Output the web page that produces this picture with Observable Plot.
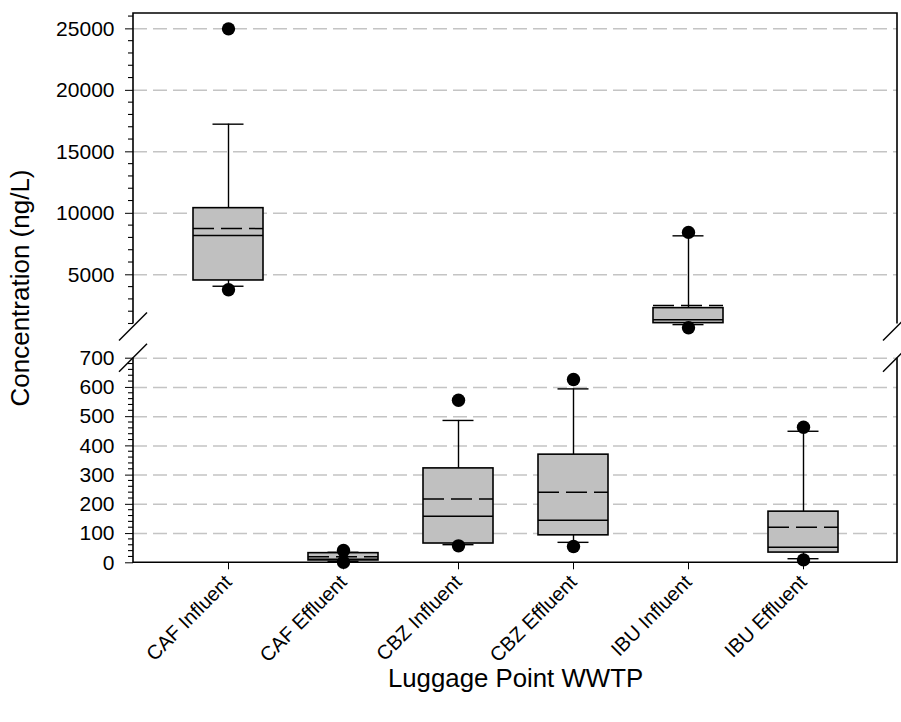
<!DOCTYPE html>
<html>
<head>
<meta charset="utf-8">
<script src="https://cdn.jsdelivr.net/npm/d3@7"></script>
<script src="https://cdn.jsdelivr.net/npm/@observablehq/plot@0.6"></script>
<style>
  html, body { margin: 0; padding: 0; background: white; }
  #chart { position: relative; width: 901px; height: 722px; overflow: hidden; }
  #chart svg { position: absolute; left: 0; top: 0; }
  g[aria-label="x-axis tick label"] text { font-size: 20px; }
</style>
</head>
<body>
<div id="chart"></div>
<script>
// ---- data ----
const categories = ["CAF Influent", "CAF Effluent", "CBZ Influent", "CBZ Effluent", "IBU Influent", "IBU Effluent"];
const panel      = ["top", "bottom", "bottom", "bottom", "top", "bottom"];
const outlierLow  = [3780, 2, 58, 56, 700, 10];
const whiskerLow  = [4070, 5, 62, 70, 950, 14];
const q1          = [4540, 8, 66, 94, 1070, 35];
const median      = [8200, 12, 159, 146, 1340, 53];
const mean        = [8760, 21, 218, 241, 2500, 122];
const q3          = [10420, 33, 323, 370, 2290, 175];
const whiskerHigh = [17250, 36, 487, 595, 8170, 450];
const outlierHigh = [25000, 42, 556, 627, 8450, 464];

const topMajor = [5000, 10000, 15000, 20000, 25000];
const topMinor = [1000, 2000, 3000, 4000, 6000, 7000, 8000, 9000, 11000, 12000, 13000, 14000, 16000, 17000, 18000, 19000, 21000, 22000, 23000, 24000, 26000];
const botMajor = [0, 100, 200, 300, 400, 500, 600, 700];
const botMinor = [20, 40, 60, 80, 120, 140, 160, 180, 220, 240, 260, 280, 320, 340, 360, 380, 420, 440, 460, 480, 520, 540, 560, 580, 620, 640, 660, 680];
const yTitle = "Concentration (ng/L)";
const xTitle = "Luggage Point WWTP";

const rows = categories.map((c, i) => ({
  cat: c, panel: panel[i], lo: outlierLow[i], wlo: whiskerLow[i], q1: q1[i], med: median[i],
  mean: mean[i], q3: q3[i], whi: whiskerHigh[i], hi: outlierHigh[i]
}));

const FONT = "'Liberation Sans', Arial, Helvetica, sans-serif";
const W = 901;
const xScale = {type: "band", domain: categories, paddingInner: 0.3945, paddingOuter: 0.502, align: 0.5};

function minorTicks(values, len) {
  return (index, scales, values2, dims) => {
    const g = d3.create("svg:g").attr("stroke", "black").attr("stroke-width", 1.1);
    for (const v of values) {
      const yy = scales.y(v);
      g.append("line").attr("x1", dims.marginLeft - len).attr("x2", dims.marginLeft).attr("y1", yy).attr("y2", yy);
    }
    return g.node();
  };
}

function frameLines(which) {
  return (index, scales, values, dims) => {
    const L = dims.marginLeft, R = dims.width - dims.marginRight;
    const T = dims.marginTop, B = dims.height - dims.marginBottom;
    const g = d3.create("svg:g").attr("stroke", "black").attr("stroke-width", 1.6).attr("fill", "none");
    let slashY;
    if (which === "top") {
      g.append("path").attr("d", `M${L},${B}V${T}H${R}V${B}`);
      slashY = B + 3;
    } else {
      g.append("path").attr("d", `M${L},${T}V${B}H${R}V${T}`);
      slashY = T;
    }
    for (const x of [L, R]) {
      g.append("line").attr("x1", x - 14).attr("y1", slashY + 14).attr("x2", x + 14).attr("y2", slashY - 14)
        .attr("stroke-width", 1.4);
    }
    return g.node();
  };
}

function boxMarks(data) {
  return [
    Plot.ruleX(data, {x: "cat", y1: "q3", y2: "whi", stroke: "black", strokeWidth: 1.4}),
    Plot.ruleX(data, {x: "cat", y1: "q1", y2: "wlo", stroke: "black", strokeWidth: 1.4}),
    Plot.tickY(data, {x: "cat", y: "whi", stroke: "black", strokeWidth: 1.4, insetLeft: 19.5, insetRight: 19.5}),
    Plot.tickY(data, {x: "cat", y: "wlo", stroke: "black", strokeWidth: 1.4, insetLeft: 19.5, insetRight: 19.5}),
    Plot.barY(data, {x: "cat", y1: "q1", y2: "q3", fill: "#c0c0c0", stroke: "black", strokeWidth: 1.6}),
    Plot.tickY(data, {x: "cat", y: "med", stroke: "black", strokeWidth: 1.5}),
    Plot.tickY(data, {x: "cat", y: "mean", stroke: "black", strokeWidth: 1.5, strokeDasharray: "21,7"}),
    Plot.dot(data, {x: "cat", y: "hi", r: 6.7, fill: "black", stroke: "none"}),
    Plot.dot(data, {x: "cat", y: "lo", r: 6.7, fill: "black", stroke: "none"})
  ];
}

const common = {
  width: W,
  marginLeft: 133,
  marginRight: 4,
  style: {background: "transparent", overflow: "visible", fontFamily: FONT, fontSize: "21px", color: "black"}
};

const topData = rows.filter(d => d.panel === "top");
const botData = rows.filter(d => d.panel === "bottom");

const topPlot = Plot.plot({
  ...common,
  height: 345,
  marginTop: 13,
  marginBottom: 21.5,
  x: {...xScale, axis: null},
  y: {domain: [1000, 26250], ticks: topMajor, tickFormat: "d", tickSize: 8, tickPadding: 11, label: null},
  marks: [
    Plot.ruleY(topMajor, {stroke: "#c4c4c4", strokeWidth: 1.5, strokeDasharray: "14,6"}),
    minorTicks(topMinor, 5),
    ...boxMarks(topData),
    frameLines("top")
  ]
});

const botPlot = Plot.plot({
  ...common,
  height: 722,
  marginTop: 357.7,
  marginBottom: 159.7,
  x: {...xScale, tickSize: 7, tickPadding: 9, tickRotate: -45, label: null},
  y: {domain: [0, 700], ticks: botMajor, tickFormat: "d", tickSize: 8, tickPadding: 11, label: null},
  marks: [
    Plot.ruleY(botMajor.filter(v => v > 0), {stroke: "#c4c4c4", strokeWidth: 1.5, strokeDasharray: "14,6"}),
    minorTicks(botMinor, 5),
    ...boxMarks(botData),
    frameLines("bottom"),
    Plot.text([yTitle], {frameAnchor: "top-left", dx: -113, dy: -70.2, rotate: -90, fontSize: 26, textAnchor: "middle", lineAnchor: "middle", fill: "black"}),
    Plot.text([xTitle], {frameAnchor: "bottom", dy: 116.2, fontSize: 25.8, textAnchor: "middle", lineAnchor: "middle", fill: "black"})
  ]
});

const chart = document.getElementById("chart");
chart.appendChild(topPlot);
chart.appendChild(botPlot);
</script>
</body>
</html>
